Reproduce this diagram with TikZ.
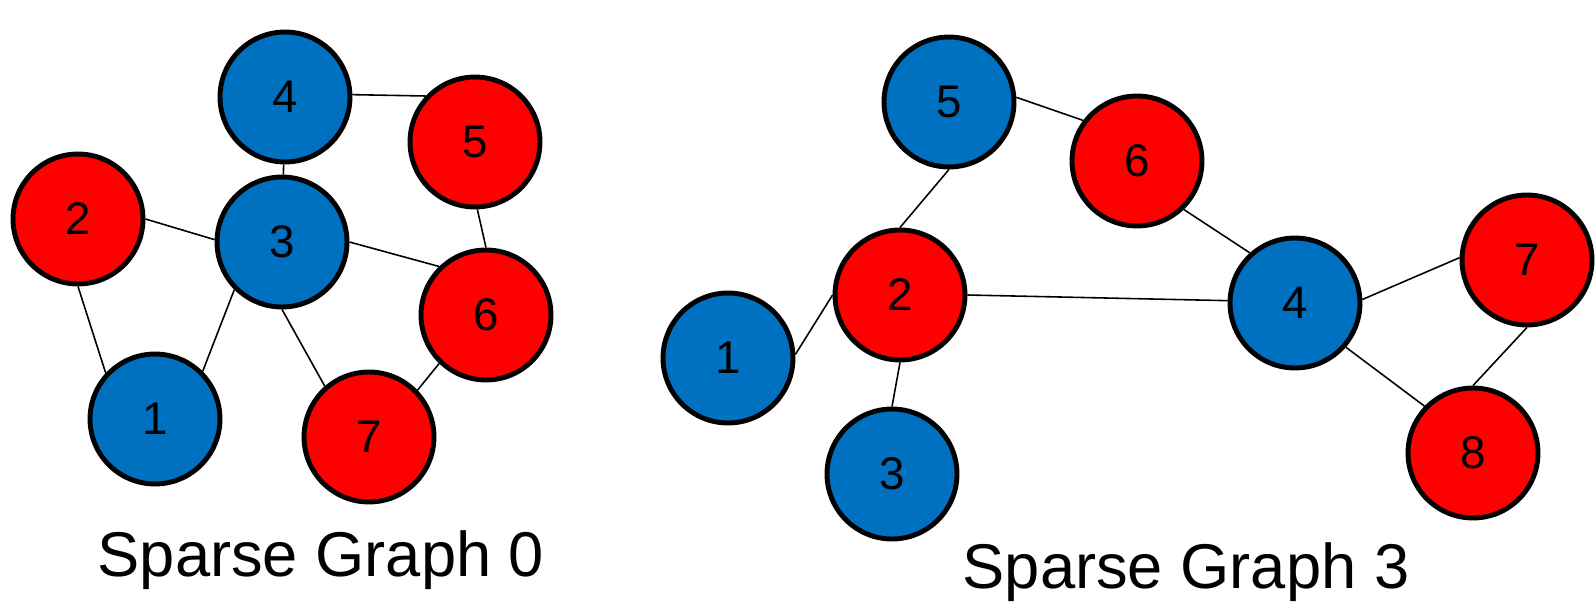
\documentclass[tikz,border=0pt]{standalone}
\usepackage{fontspec}
\setmainfont{Liberation Sans}
\definecolor{nodeblue}{HTML}{0070C0}
\definecolor{nodered}{HTML}{FF0000}

\begin{document}
\begin{tikzpicture}[x=0.02cm, y=-0.02cm,
    vertex/.style={circle, draw=black, line width=2.8pt, minimum size=2.6cm, inner sep=0pt, font=\fontsize{26}{26}\selectfont},
    bluev/.style={vertex, fill=nodeblue},
    redv/.style={vertex, fill=nodered},
    link/.style={line width=0.9pt},
    caption/.style={font=\fontsize{36}{36}\selectfont}]
              \useasboundingbox (0,0) rectangle (1596,605);
              % Sparse graph 0
              \node[bluev] (a4) at (285,97) {4};
              \node[redv]  (a5) at (475,142) {5};
              \node[redv]  (a2) at (78,219) {2};
              \node[bluev] (a3) at (282,242) {3};
              \node[redv]  (a6) at (486,315) {6};
              \node[bluev] (a1) at (155,419) {1};
              \node[redv]  (a7) at (369,437) {7};
              \draw[link] (a4.2)--(a5.137);
              \draw[link] (a4)--(a3);
              \draw[link] (a2.0)--(a3.178);
              \draw[link] (a3.0)--(a6.134);
              \draw[link] (a5.272)--(a6.90);
              \draw[link] (a2.270)--(a1.137);
              \draw[link] (a3.225)--(a1.45);
              \draw[link] (a3.270)--(a7.131);
              \draw[link] (a6.226)--(a7.44);
              \node[caption] (cap0) at (321,560) {Sparse Graph 0};
              % Sparse graph 3
              \node[bluev] (b5) at (949,102) {5};
              \node[redv]  (b6) at (1137,161) {6};
              \node[redv]  (b2) at (900,295) {2};
              \node[bluev] (b4) at (1295,303) {4};
              \node[redv]  (b7) at (1527,260) {7};
              \node[bluev] (b1) at (728,358) {1};
              \node[bluev] (b3) at (892,474) {3};
              \node[redv]  (b8) at (1473,453) {8};
              \draw[link] (b5.4)--(b6.143);
              \draw[link] (b5.270)--(b2.90);
              \draw[link] (b6.314)--(b4.132);
              \draw[link] (b2.0)--(b4.178);
              \draw[link] (b1.3)--(b2.180);
              \draw[link] (b2.270)--(b3.90);
              \draw[link] (b4.3)--(b7.178);
              \draw[link] (b4.319)--(b8.136);
              \draw[link] (b7.270)--(b8.90);
              \node[caption] (cap3) at (1186,572) {Sparse Graph 3};
\end{tikzpicture}
\end{document}
